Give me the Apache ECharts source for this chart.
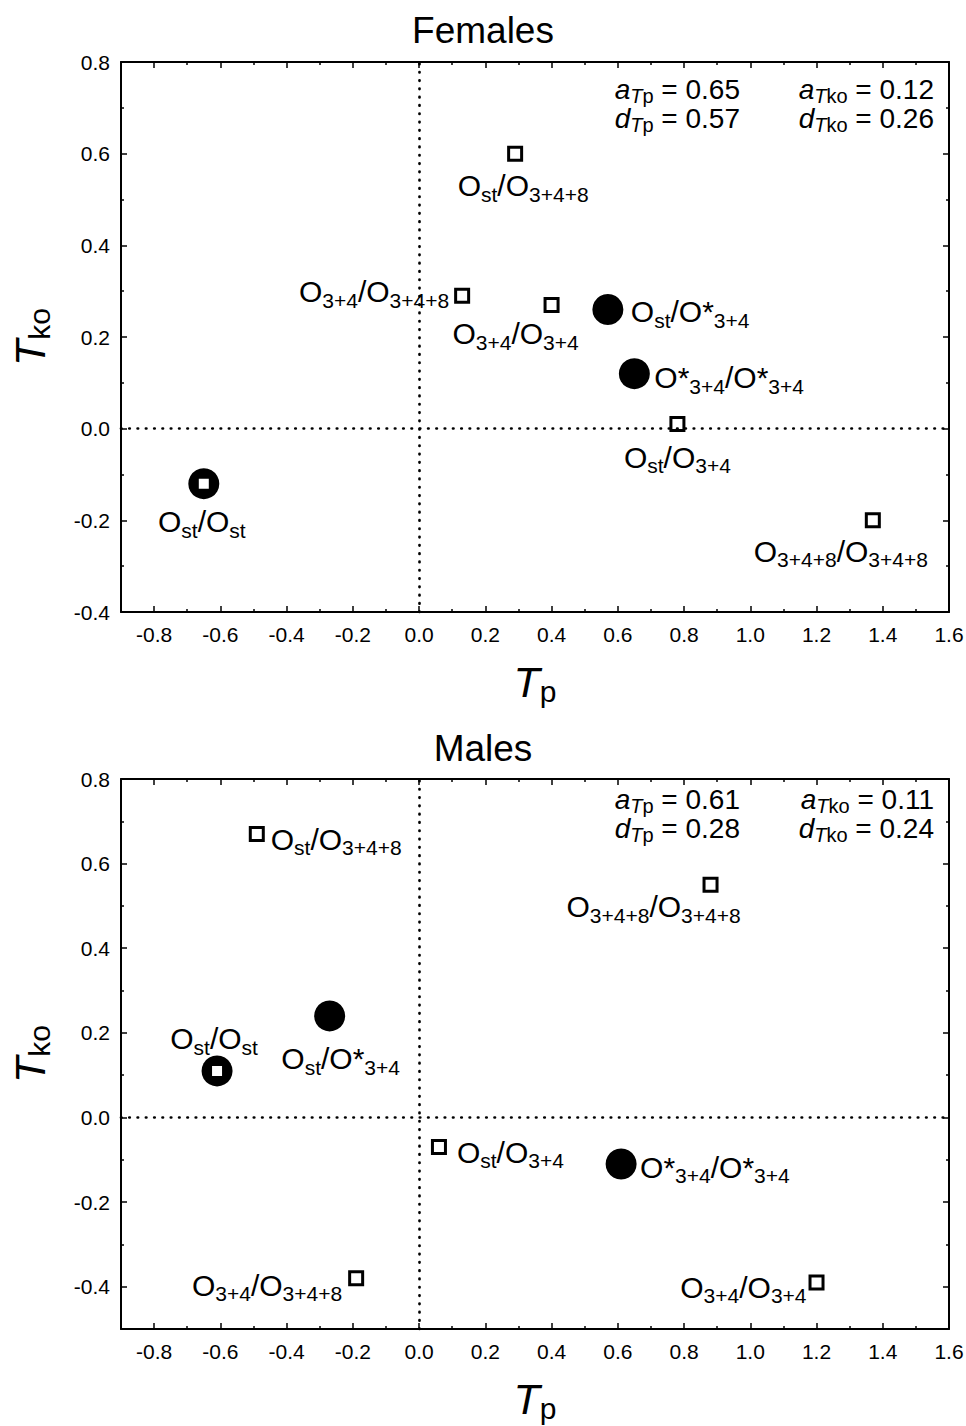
<!DOCTYPE html>
<html>
<head>
<meta charset="utf-8">
<title>Females / Males</title>
<script src="https://cdn.jsdelivr.net/npm/echarts@6/dist/echarts.min.js"></script>
<style>
  html, body { margin: 0; padding: 0; background: #fff; }
  #main { width: 966px; height: 1426px; }
</style>
</head>
<body>
<div id="main"></div>
<script>
// tick values
var xMajor = [-0.8, -0.6, -0.4, -0.2, 0, 0.2, 0.4, 0.6, 0.8, 1.0, 1.2, 1.4, 1.6];
var xMinor = [-0.9, -0.7, -0.5, -0.3, -0.1, 0.1, 0.3, 0.5, 0.7, 0.9, 1.1, 1.3, 1.5];
var yMajor = [-0.4, -0.2, 0, 0.2, 0.4, 0.6, 0.8];
var yMinorF = [-0.3, -0.1, 0.1, 0.3, 0.5, 0.7];
var yMinorM = [-0.5, -0.3, -0.1, 0.1, 0.3, 0.5, 0.7];

// Females
var femSquares = [[0.29, 0.60], [0.13, 0.29], [0.40, 0.27], [0.78, 0.01], [1.37, -0.20], [-0.65, -0.12]];
var femSquareNames = ['O_{st}/O_{3+4+8}', 'O_{3+4}/O_{3+4+8}', 'O_{3+4}/O_{3+4}', 'O_{st}/O_{3+4}', 'O_{3+4+8}/O_{3+4+8}', 'O_{st}/O_{st}'];
var femCircles = [[0.57, 0.26], [0.65, 0.12], [-0.65, -0.12]];
var femCircleNames = ['O_{st}/O*_{3+4}', 'O*_{3+4}/O*_{3+4}', ''];
var femStats = ['0.65', '0.12', '0.57', '0.26'];   // aTp, aTko, dTp, dTko

// Males
var maleSquares = [[-0.49, 0.67], [0.88, 0.55], [-0.61, 0.11], [0.06, -0.07], [-0.19, -0.38], [1.20, -0.39]];
var maleSquareNames = ['O_{st}/O_{3+4+8}', 'O_{3+4+8}/O_{3+4+8}', 'O_{st}/O_{st}', 'O_{st}/O_{3+4}', 'O_{3+4}/O_{3+4+8}', 'O_{3+4}/O_{3+4}'];
var maleCircles = [[-0.27, 0.24], [-0.61, 0.11], [0.61, -0.11]];
var maleCircleNames = ['O_{st}/O*_{3+4}', '', 'O*_{3+4}/O*_{3+4}'];
var maleStats = ['0.61', '0.11', '0.28', '0.24'];

// label placement: [dx, dy, align] from the marker centre
var femSquarePlace = [[8, 32, 'center'], [-13, -4, 'right'], [-36, 29, 'center'], [0, 33, 'center'], [-32, 31, 'center'], [-2, 38, 'center']];
var femCirclePlace = [[23, 2, 'left'], [20, 4, 'left'], null];
var maleSquarePlace = [[14, 5, 'left'], [-57, 22, 'center'], [-3, -32, 'center'], [18, 5, 'left'], [-14, 7, 'right'], [-10, 5, 'right']];
var maleCirclePlace = [[11, 43, 'center'], null, [19, 3, 'left']];

var FONT = '"Liberation Sans", Arial, Helvetica, sans-serif';
var BLACK = '#000';

var labelRich = {
  m: { fontSize: 30, lineHeight: 38, fontFamily: FONT, color: BLACK },
  s: { fontSize: 21, lineHeight: 21, verticalAlign: 'bottom', fontFamily: FONT, color: BLACK }
};

// 'O_{st}/O*_{3+4}' -> rich text
function toRich(str) {
  var out = '';
  var re = /_\{([^}]*)\}|([^_]+)/g, mt;
  while ((mt = re.exec(str)) !== null) {
    if (mt[1] !== undefined) out += '{s|' + mt[1] + '}';
    else out += '{m|' + mt[2] + '}';
  }
  return out;
}

function pointData(points, names, place) {
  return points.map(function (p, i) {
    var item = { value: p };
    if (names[i] && place[i]) {
      item.label = {
        show: true,
        position: 'inside',
        formatter: toRich(names[i]),
        align: place[i][2],
        verticalAlign: 'middle',
        offset: [place[i][0], place[i][1]],
        rich: labelRich
      };
    } else {
      item.label = { show: false };
    }
    return item;
  });
}

var axisLineStyle = { color: BLACK, width: 2 };
var tickStyle = { color: BLACK, width: 1.5 };

function nameRich() {
  return {
    i: { fontSize: 43, fontStyle: 'italic', lineHeight: 48, fontFamily: FONT, color: BLACK },
    s: { fontSize: 30, lineHeight: 30, verticalAlign: 'bottom', fontFamily: FONT, color: BLACK }
  };
}

function fmt(v) { return v.toFixed(1); }

function makeX(g) {
  var base = { type: 'value', gridIndex: g, min: -0.9, max: 1.6, splitLine: { show: false } };
  return [
    Object.assign({}, base, {
      position: 'bottom',
      axisLine: { show: true, onZero: false, lineStyle: axisLineStyle },
      axisTick: { show: true, inside: true, length: 6, customValues: xMajor, lineStyle: tickStyle },
      axisLabel: { show: true, customValues: xMajor, margin: 12, color: BLACK, fontSize: 21, fontFamily: FONT, formatter: fmt },
      name: '{i|T}{s|p}', nameLocation: 'middle', nameGap: 46,
      nameTextStyle: { rich: nameRich() }
    }),
    Object.assign({}, base, {
      position: 'bottom',
      axisLine: { show: false, onZero: false },
      axisTick: { show: true, inside: true, length: 3, customValues: xMinor, lineStyle: tickStyle },
      axisLabel: { show: false }
    }),
    Object.assign({}, base, {
      position: 'top',
      axisLine: { show: true, onZero: false, lineStyle: axisLineStyle },
      axisTick: { show: true, inside: true, length: 6, customValues: xMajor, lineStyle: tickStyle },
      axisLabel: { show: false }
    }),
    Object.assign({}, base, {
      position: 'top',
      axisLine: { show: false, onZero: false },
      axisTick: { show: true, inside: true, length: 3, customValues: xMinor, lineStyle: tickStyle },
      axisLabel: { show: false }
    })
  ];
}

function makeY(g, min, minor) {
  var base = { type: 'value', gridIndex: g, min: min, max: 0.8, splitLine: { show: false } };
  return [
    Object.assign({}, base, {
      position: 'left',
      axisLine: { show: true, onZero: false, lineStyle: axisLineStyle },
      axisTick: { show: true, inside: true, length: 6, customValues: yMajor, lineStyle: tickStyle },
      axisLabel: { show: true, customValues: yMajor, margin: 11, color: BLACK, fontSize: 21, fontFamily: FONT, formatter: fmt },
      name: '{i|T}{s|ko}', nameLocation: 'middle', nameGap: 67,
      nameTextStyle: { rich: nameRich() }
    }),
    Object.assign({}, base, {
      position: 'left',
      axisLine: { show: false, onZero: false },
      axisTick: { show: true, inside: true, length: 3, customValues: minor, lineStyle: tickStyle },
      axisLabel: { show: false }
    }),
    Object.assign({}, base, {
      position: 'right',
      axisLine: { show: true, onZero: false, lineStyle: axisLineStyle },
      axisTick: { show: true, inside: true, length: 6, customValues: yMajor, lineStyle: tickStyle },
      axisLabel: { show: false }
    }),
    Object.assign({}, base, {
      position: 'right',
      axisLine: { show: false, onZero: false },
      axisTick: { show: true, inside: true, length: 3, customValues: minor, lineStyle: tickStyle },
      axisLabel: { show: false }
    })
  ];
}

function makeSeries(g, squares, sqNames, sqPlace, circles, ciNames, ciPlace) {
  var xi = g * 4, yi = g * 4;
  return [
    {
      type: 'scatter', xAxisIndex: xi, yAxisIndex: yi, data: [], z: 1, silent: true,
      markLine: {
        silent: true, symbol: ['none', 'none'], label: { show: false },
        lineStyle: { color: BLACK, width: 2.7, type: [0.5, 7.8], cap: 'round' },
        emphasis: { disabled: true },
        data: [{ xAxis: 0 }, { yAxis: 0 }]
      }
    },
    {
      type: 'scatter', xAxisIndex: xi, yAxisIndex: yi, z: 2,
      symbol: 'circle', symbolSize: 31,
      itemStyle: { color: BLACK, opacity: 1 },
      data: pointData(circles, ciNames, ciPlace)
    },
    {
      type: 'scatter', xAxisIndex: xi, yAxisIndex: yi, z: 3,
      symbol: 'rect', symbolSize: 13,
      itemStyle: { color: '#fff', borderColor: BLACK, borderWidth: 3, opacity: 1 },
      data: pointData(squares, sqNames, sqPlace)
    }
  ];
}

var statRich = {
  ai: { fontSize: 28, fontStyle: 'italic', lineHeight: 34, fontFamily: FONT, fill: BLACK },
  m: { fontSize: 28, lineHeight: 34, fontFamily: FONT, fill: BLACK },
  si: { fontSize: 20, fontStyle: 'italic', lineHeight: 20, verticalAlign: 'bottom', fontFamily: FONT, fill: BLACK },
  s: { fontSize: 20, lineHeight: 20, verticalAlign: 'bottom', fontFamily: FONT, fill: BLACK }
};

function statTexts(stats, rowY) {
  var heads = ['a', 'a', 'd', 'd'];
  var subs = ['p', 'ko', 'p', 'ko'];
  var colX = [740, 934];
  return stats.map(function (v, i) {
    return {
      type: 'text', x: colX[i % 2], y: rowY[Math.floor(i / 2)], silent: true,
      style: {
        text: '{ai|' + heads[i] + '}{si|T}{s|' + subs[i] + '}{m| = ' + v + '}',
        rich: statRich, align: 'right', verticalAlign: 'middle', fill: BLACK
      }
    };
  });
}

var titleStyle = { fontSize: 37, fontWeight: 'normal', fontFamily: FONT, color: BLACK };

var chart = echarts.init(document.getElementById('main'), null, { renderer: 'svg' });
chart.setOption({
  animation: false,
  backgroundColor: '#fff',
  title: [
    { text: 'Females', left: 'center', top: 7, textStyle: titleStyle },
    { text: 'Males', left: 'center', top: 725, textStyle: titleStyle }
  ],
  grid: [
    { left: 121, top: 62, width: 828, height: 550, outerBoundsMode: 'none' },
    { left: 121, top: 779, width: 828, height: 550, outerBoundsMode: 'none' }
  ],
  xAxis: makeX(0).concat(makeX(1)),
  yAxis: makeY(0, -0.4, yMinorF).concat(makeY(1, -0.5, yMinorM)),
  series: makeSeries(0, femSquares, femSquareNames, femSquarePlace, femCircles, femCircleNames, femCirclePlace)
    .concat(makeSeries(1, maleSquares, maleSquareNames, maleSquarePlace, maleCircles, maleCircleNames, maleCirclePlace)),
  graphic: statTexts(femStats, [89, 118]).concat(statTexts(maleStats, [799, 828]))
});
</script>
</body>
</html>
